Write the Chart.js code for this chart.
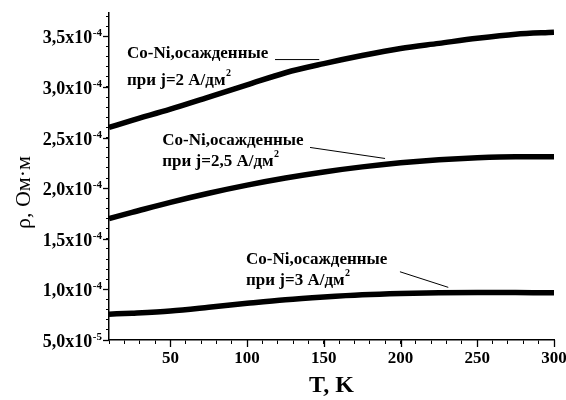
<!DOCTYPE html>
<html>
<head>
<meta charset="utf-8">
<script src="https://cdn.jsdelivr.net/npm/chart.js@4/dist/chart.umd.min.js"></script>
<style>
  html, body { margin: 0; padding: 0; background: #ffffff; }
  #wrap { width: 566px; height: 400px; }
</style>
</head>
<body>
<div id="wrap"><canvas id="chart" width="566" height="400"></canvas></div>
<script>
// Temperature, K
const temperatureK = [10, 25, 50, 75, 100, 125, 150, 175, 200, 225, 250, 275, 300];

// Resistivity of Co-Ni films, Ohm·m, for three deposition current densities
const rhoJ2   = [2.60e-4, 2.67e-4, 2.78e-4, 2.90e-4, 3.02e-4, 3.14e-4, 3.23e-4, 3.31e-4, 3.38e-4, 3.43e-4, 3.48e-4, 3.52e-4, 3.54e-4];
const rhoJ2_5 = [1.70e-4, 1.76e-4, 1.86e-4, 1.95e-4, 2.03e-4, 2.10e-4, 2.16e-4, 2.21e-4, 2.25e-4, 2.28e-4, 2.30e-4, 2.31e-4, 2.31e-4];
const rhoJ3   = [0.755e-4, 0.765e-4, 0.787e-4, 0.823e-4, 0.862e-4, 0.898e-4, 0.925e-4, 0.947e-4, 0.96e-4, 0.967e-4, 0.97e-4, 0.97e-4, 0.966e-4];

// Axis tick labels
const xTickValues = [50, 100, 150, 200, 250, 300];
const yTickValues = [5e-5, 1.0e-4, 1.5e-4, 2.0e-4, 2.5e-4, 3.0e-4, 3.5e-4];
const yTickMantissa = ['5,0', '1,0', '1,5', '2,0', '2,5', '3,0', '3,5'];
const yTickExponent = ['-5', '-4', '-4', '-4', '-4', '-4', '-4'];

// Curve captions
const captionLine1 = ['Co-Ni,осажденные', 'Co-Ni,осажденные', 'Co-Ni,осажденные'];
const captionLine2 = ['при j=2 А/дм', 'при j=2,5 А/дм', 'при j=3 А/дм'];
const captionSup = ['2', '2', '2'];

const SERIF = '"Liberation Serif", "Times New Roman", serif';

function toPoints(xs, ys) {
  return xs.map((t, i) => ({ x: t, y: ys[i] }));
}

// Caption placement in data units: anchor (T, rho) of first baseline,
// line gap in px, leader line end points in data units.
const captionLayout = [
  { t: 21.7, r: 3.283e-4, gap: 27, lead: [[118.2, 3.270e-4], [147.0, 3.270e-4]] },
  { t: 44.7, r: 2.424e-4, gap: 21, lead: [[141.0, 2.402e-4], [189.9, 2.293e-4]] },
  { t: 99.3, r: 1.250e-4, gap: 21, lead: [[199.6, 1.174e-4], [231.1, 1.020e-4]] }
];

const overlay = {
  id: 'overlay',
  afterDraw(chart) {
    const { ctx, chartArea } = chart;
    const xs = chart.scales.x, ys = chart.scales.y;
    ctx.save();
    ctx.fillStyle = '#000';
    ctx.strokeStyle = '#000';

    // longer marks at the labelled ticks
    ctx.lineWidth = 1.3;
    xTickValues.forEach(v => {
      const px = Math.round(xs.getPixelForValue(v)) + 0.5;
      ctx.beginPath();
      ctx.moveTo(px, chartArea.bottom);
      ctx.lineTo(px, chartArea.bottom + 7);
      ctx.stroke();
    });
    yTickValues.forEach(v => {
      const py = Math.round(ys.getPixelForValue(v)) + 0.5;
      ctx.beginPath();
      ctx.moveTo(chartArea.left, py);
      ctx.lineTo(chartArea.left - 6, py);
      ctx.stroke();
    });

    // y tick labels with exponent
    const mainFont = 'bold 18px ' + SERIF;
    const supFont = 'bold 11px ' + SERIF;
    const rightEdge = chartArea.left - 7;
    yTickValues.forEach((v, i) => {
      const py = ys.getPixelForValue(v);
      ctx.font = supFont;
      const supW = ctx.measureText(yTickExponent[i]).width;
      ctx.textAlign = 'left';
      ctx.textBaseline = 'alphabetic';
      ctx.fillText(yTickExponent[i], rightEdge - supW, py);
      ctx.font = mainFont;
      ctx.textAlign = 'right';
      ctx.fillText(yTickMantissa[i] + 'x10', rightEdge - supW - 0.5, py + 7);
    });

    // y axis title
    ctx.save();
    ctx.translate(chartArea.left - 79.5, (chartArea.top + chartArea.bottom) / 2 + 16);
    ctx.rotate(-Math.PI / 2);
    ctx.font = '22px ' + SERIF;
    ctx.textAlign = 'center';
    ctx.textBaseline = 'alphabetic';
    ctx.fillText('ρ, Ом·м', 0, 0);
    ctx.restore();

    // curve captions and leader lines
    captionLayout.forEach((c, i) => {
      const x0 = xs.getPixelForValue(c.t);
      const y0 = ys.getPixelForValue(c.r);
      ctx.font = 'bold 17px ' + SERIF;
      ctx.textAlign = 'left';
      ctx.textBaseline = 'alphabetic';
      ctx.fillText(captionLine1[i], x0, y0);
      ctx.fillText(captionLine2[i], x0, y0 + c.gap);
      const w2 = ctx.measureText(captionLine2[i]).width;
      ctx.font = 'bold 10px ' + SERIF;
      ctx.fillText(captionSup[i], x0 + w2 + 0.5, y0 + c.gap - 9);
      ctx.lineWidth = 1;
      ctx.beginPath();
      ctx.moveTo(xs.getPixelForValue(c.lead[0][0]), ys.getPixelForValue(c.lead[0][1]));
      ctx.lineTo(xs.getPixelForValue(c.lead[1][0]), ys.getPixelForValue(c.lead[1][1]));
      ctx.stroke();
    });
    ctx.restore();
  }
};

const curveStyle = {
  borderColor: '#000',
  backgroundColor: '#000',
  borderWidth: 5.5,
  pointRadius: 0,
  fill: false,
  cubicInterpolationMode: 'monotone'
};

new Chart(document.getElementById('chart'), {
  type: 'line',
  data: {
    datasets: [
      Object.assign({ label: 'j=2', data: toPoints(temperatureK, rhoJ2) }, curveStyle),
      Object.assign({ label: 'j=2,5', data: toPoints(temperatureK, rhoJ2_5) }, curveStyle),
      Object.assign({ label: 'j=3', data: toPoints(temperatureK, rhoJ3) }, curveStyle)
    ]
  },
  options: {
    responsive: false,
    animation: false,
    devicePixelRatio: 1,
    layout: { padding: { left: 0, right: 12, top: 13, bottom: 0 } },
    plugins: { legend: { display: false }, tooltip: { enabled: false } },
    scales: {
      x: {
        type: 'linear',
        min: 10,
        max: 300,
        afterFit: s => { s.height = 60; s.paddingLeft = 0; s.paddingRight = 0; },
        ticks: {
          stepSize: 10,
          autoSkip: false,
          maxRotation: 0,
          includeBounds: false,
          padding: 4,
          color: '#000',
          font: { family: SERIF, size: 17, weight: 'bold' },
          callback: v => (xTickValues.includes(v) ? String(v) : '')
        },
        grid: { drawOnChartArea: false, drawTicks: true, tickLength: 4, tickColor: '#000', tickWidth: 1 },
        border: { display: true, color: '#000', width: 1.5 },
        title: {
          display: true,
          text: 'T, K',
          color: '#000',
          font: { family: SERIF, size: 24, weight: 'bold' },
          padding: { top: 0, bottom: 0 }
        }
      },
      y: {
        type: 'linear',
        min: 5e-5,
        max: 3.73e-4,
        afterFit: s => { s.width = 109; },
        ticks: { display: false, stepSize: 1e-5, includeBounds: false },
        grid: { drawOnChartArea: false, drawTicks: true, tickLength: 3, tickColor: '#000', tickWidth: 1 },
        border: { display: true, color: '#000', width: 1.5 }
      }
    }
  },
  plugins: [overlay]
});
</script>
</body>
</html>
